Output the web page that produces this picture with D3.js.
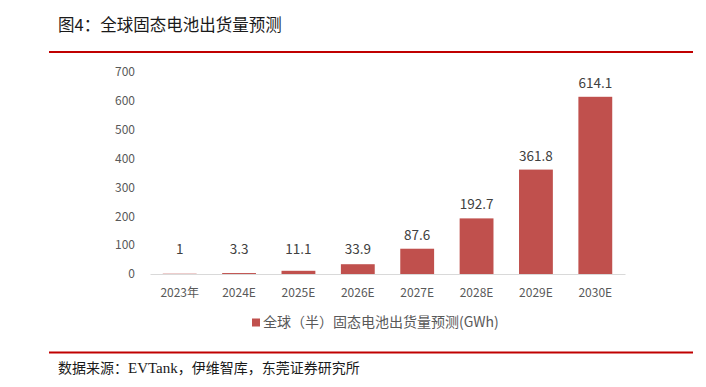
<!DOCTYPE html>
<meta charset="utf-8">
<style>
body { margin: 0; background: #fff; }
svg text { font-family: "Noto Sans CJK SC", "Noto Sans", sans-serif; }
.title { font-size: 16.5px; fill: #1a1a1a; font-weight: 400; }
.src { font-size: 14px; fill: #1a1a1a; }
.axis text { font-size: 12px; fill: #595959; }
.val { font-size: 13.5px; fill: #404040; text-anchor: middle; }
</style>
<body>
<svg width="706" height="387"></svg>
<script src="https://cdn.jsdelivr.net/npm/d3@7"></script>
<script>
var years = ["2023年","2024E","2025E","2026E","2027E","2028E","2029E","2030E"];
var shipments = [1, 3.3, 11.1, 33.9, 87.6, 192.7, 361.8, 614.1];
var yTicks = [0,100,200,300,400,500,600,700];
var seriesName = "全球（半）固态电池出货量预测(GWh)";

var svg = d3.select("svg");

// header and footer
svg.append("text").attr("class","title").attr("x",58).attr("y",31).text("图4：全球固态电池出货量预测");
svg.append("line").attr("x1",49).attr("x2",693).attr("y1",52).attr("y2",52)
  .attr("stroke","#c00000").attr("stroke-width",2);
svg.append("line").attr("x1",49).attr("x2",693).attr("y1",352.5).attr("y2",352.5)
  .attr("stroke","#c00000").attr("stroke-width",2);
var src = svg.append("text").attr("class","src").attr("x",58).attr("y",373);
src.append("tspan").text("数据来源：");
src.append("tspan").attr("font-family","Liberation Serif, serif").attr("font-size",15).text("EVTank");
src.append("tspan").text("，伊维智库，东莞证券研究所");

var x = d3.scaleBand().domain(years).range([150,625]).paddingInner(0.43).paddingOuter(0.215);
var y = d3.scaleLinear().domain([0,700]).range([274,72]);

// y axis labels
var ya = svg.append("g").attr("class","axis").attr("transform","translate(135,0)")
  .call(d3.axisLeft(y).tickValues(yTicks).tickSize(0).tickPadding(0));
ya.select(".domain").remove();

// bars
svg.append("g").selectAll("rect").data(shipments).join("rect")
  .attr("x",(d,i)=>x(years[i]))
  .attr("width",x.bandwidth())
  .attr("y",d=>y(d))
  .attr("height",d=>y(0)-y(d))
  .attr("fill","#c0504d");

// value labels
svg.append("g").selectAll("text").data(shipments).join("text")
  .attr("class","val")
  .attr("x",(d,i)=>x(years[i])+x.bandwidth()/2)
  .attr("y",d=>Math.min(y(d),263)-9)
  .text(d=>d);

// x axis
var xa = svg.append("g").attr("class","axis").attr("transform","translate(0,274)")
  .call(d3.axisBottom(x).tickSize(0).tickPadding(14));
xa.select(".domain").attr("stroke","#d9d9d9");

// legend
var lg = svg.append("g").attr("transform","translate(252,327)");
lg.append("rect").attr("x",0).attr("y",-8.5).attr("width",8).attr("height",8).attr("fill","#c0504d");
lg.append("text").attr("x",11).attr("y",0).attr("font-size",14).attr("fill","#595959").text(seriesName);
</script>
